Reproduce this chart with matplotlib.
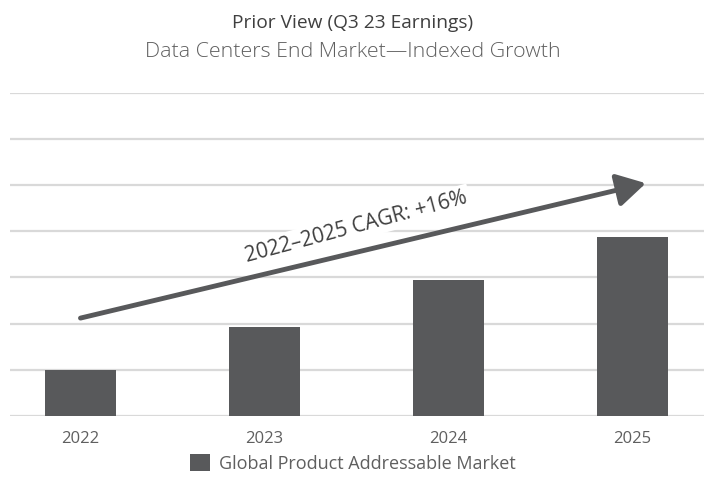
import matplotlib
matplotlib.use("Agg")
import matplotlib.pyplot as plt
from matplotlib.patches import Patch

# chart data (indexed, 2022 = 1)
years = ["2022", "2023", "2024", "2025"]
indexed_values = [1.0, 1.93, 2.94, 3.87]
series_name = "Global Product Addressable Market"
title = "Prior View (Q3 23 Earnings)"
subtitle = "Data Centers End Market\u2014Indexed Growth"
cagr_label = "2022\u20132025 CAGR: +16%"

BAR = "#58595b"
GRID = "#d9d9d9"
TEXT_DARK = "#3f3f3f"
TEXT_MID = "#5f5f5f"

plt.rcParams["font.family"] = ["Open Sans", "DejaVu Sans"]

fig = plt.figure(figsize=(7.05, 4.83), dpi=100)
ax = fig.add_axes([0.0142, 0.1387, 0.9844, 0.6694])

x = range(len(years))
bars = ax.bar(x, indexed_values, width=0.386, color=BAR, zorder=2)

ax.set_xlim(-0.383, 3.389)
ax.set_ylim(0, 7)
ax.set_yticks(range(0, 8))
ax.yaxis.grid(True, color=GRID, linewidth=1.6, zorder=0)
ax.tick_params(axis="y", left=False, labelleft=False)
ax.set_xticks(list(x))
ax.set_xticklabels(years, fontsize=12, color=TEXT_MID)
ax.tick_params(axis="x", length=0, pad=11)
for s in ax.spines.values():
    s.set_visible(False)

# growth arrow
ax.annotate("", xy=(3.073, 5.04), xytext=(0.0, 2.12),
            arrowprops=dict(arrowstyle="-|>,head_length=1.75,head_width=1.0",
                            color=BAR, lw=3.5, shrinkA=0, shrinkB=0),
            zorder=4)
ax.text(1.5, 4.1, cagr_label, rotation=15, ha="center", va="center",
        fontsize=15, color=TEXT_DARK, zorder=3,
        bbox=dict(facecolor="white", edgecolor="none", pad=2))

fig.text(0.5, 0.953, title, ha="center", va="center", fontsize=13.8, color=TEXT_DARK)
fig.text(0.5, 0.892, subtitle, ha="center", va="center", fontsize=15.4,
         color=TEXT_MID, fontweight="light")

fig.legend(handles=[Patch(facecolor=BAR, edgecolor="none")], labels=[series_name],
           loc="center", bbox_to_anchor=(0.5, 0.041), frameon=False,
           fontsize=13, handlelength=1.1, handleheight=1.1, handletextpad=0.5,
           labelcolor=TEXT_MID)

fig.savefig("out.png", dpi=100)
